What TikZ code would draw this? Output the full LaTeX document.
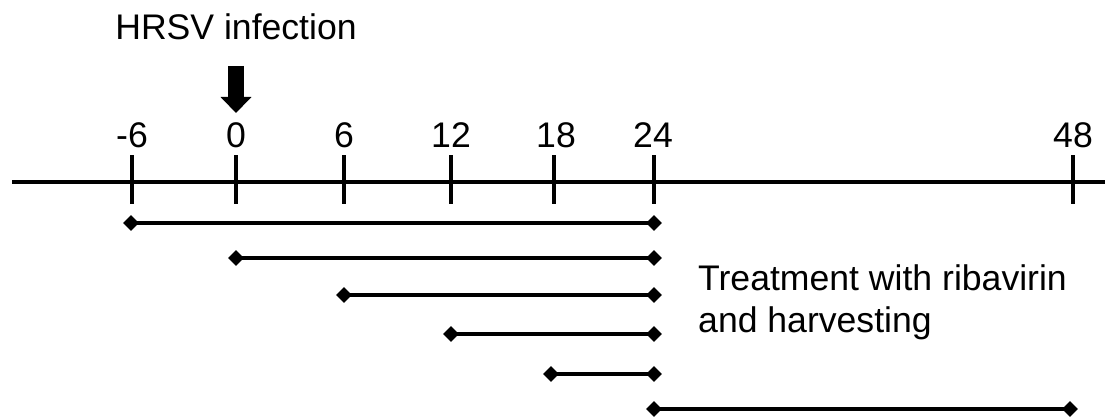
\documentclass[tikz,border=0pt]{standalone}
\usepackage{fontspec}
\setmainfont{Liberation Sans}
\usetikzlibrary{arrows.meta,shapes.geometric}
\begin{document}
\begin{tikzpicture}[x=1pt,y=-1pt]
	\tikzstyle{Label} = [font=\fontsize{35.6}{42}\selectfont, inner sep=0pt]
	\tikzstyle{Tick} = [rectangle, fill=black, inner sep=0pt, minimum width=4pt, minimum height=49pt]
	\tikzstyle{Dot} = [diamond, fill=black, inner sep=0pt, minimum size=16pt]
	\tikzstyle{Bar} = [line width=4pt]
	\useasboundingbox (0,0) rectangle (1105,417);
	% infection
	\node (hrsv) at (236,40) [Label, anchor=base] {HRSV infection};
	\coordinate (arrtop) at (236,66);
	\coordinate (arrtip) at (236,113);
	\draw [line width=16pt, -{Triangle[width=30pt,length=16pt]}] (arrtop) to (arrtip);
	% time axis
	\coordinate (axstart) at (12,182);
	\coordinate (axend) at (1105,182);
	\draw [line width=4.5pt] (axstart) to (axend);
	\node (tm6) at (132,179.5) [Tick] {};
	\node (t0) at (236,179.5) [Tick] {};
	\node (t6) at (344,179.5) [Tick] {};
	\node (t12) at (451,179.5) [Tick] {};
	\node (t18) at (554,179.5) [Tick] {};
	\node (t24) at (654,179.5) [Tick] {};
	\node (t48) at (1073,179.5) [Tick] {};
	\node (lm6) at (132,147) [Label, anchor=base] {-6};
	\node (l0) at (236,147) [Label, anchor=base] {0};
	\node (l6) at (344,147) [Label, anchor=base] {6};
	\node (l12) at (451,147) [Label, anchor=base] {12};
	\node (l18) at (556,147) [Label, anchor=base] {18};
	\node (l24) at (653,147) [Label, anchor=base] {24};
	\node (l48) at (1073,147) [Label, anchor=base] {48};
	% treatment periods
	\node (sm6) at (131,223) [Dot] {};
	\node (em6) at (654,223) [Dot] {};
	\node (s0) at (236,258) [Dot] {};
	\node (e0) at (654,258) [Dot] {};
	\node (s6) at (344,295) [Dot] {};
	\node (e6) at (654,295) [Dot] {};
	\node (s12) at (451,334) [Dot] {};
	\node (e12) at (654,334) [Dot] {};
	\node (s18) at (551,374) [Dot] {};
	\node (e18) at (654,374) [Dot] {};
	\node (s24) at (654,409) [Dot] {};
	\node (e24) at (1070,409) [Dot] {};
	\draw [Bar] (sm6.center) to (em6.center);
	\draw [Bar] (s0.center) to (e0.center);
	\draw [Bar] (s6.center) to (e6.center);
	\draw [Bar] (s12.center) to (e12.center);
	\draw [Bar] (s18.center) to (e18.center);
	\draw [Bar] (s24.center) to (e24.center);
	\node (treat) at (698,264.5) [Label, anchor=north west, align=left] {Treatment with ribavirin\\and harvesting};
\end{tikzpicture}
\end{document}
